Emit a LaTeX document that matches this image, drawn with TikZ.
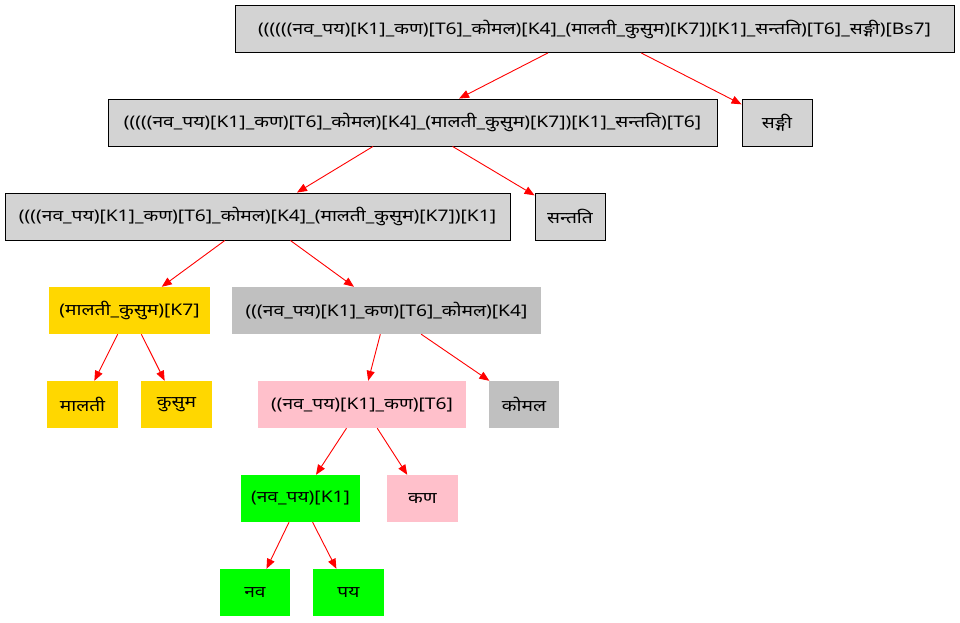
\documentclass[tikz,border=0pt]{standalone}
\usepackage{fontspec}
\setmainfont[Script=Devanagari, FakeStretch=1.2]{Noto Sans}
\usetikzlibrary{arrows.meta}
\definecolor{lgray}{HTML}{D3D3D3}
\definecolor{silver}{HTML}{C0C0C0}
\definecolor{goldc}{HTML}{FFD700}
\definecolor{pinkc}{HTML}{FFC0CB}
\definecolor{limec}{HTML}{00FF00}
\begin{document}
\begin{tikzpicture}[x=1pt,y=-1pt,
  every node/.style={font=\fontsize{16}{18}\selectfont, inner sep=0pt, minimum height=47pt, anchor=center},
  boxed/.style={draw=black, fill=lgray, line width=0.9pt},
  goldbox/.style={fill=goldc},
  silverbox/.style={fill=silver},
  pinkbox/.style={fill=pinkc},
  greenbox/.style={fill=limec},
  edge/.style={draw=red, line width=0.9pt, -{Triangle[length=10pt,width=8pt]}}]
  \fill[white] (0,0) rectangle (960,622);
  \useasboundingbox (0,0) rectangle (960,622);

  % tree levels
  \node[boxed, minimum width=719pt] (r) at (594.5,29) {((((((नव\_पय)[K1]\_कण)[T6]\_कोमल)[K4]\_(मालती\_कुसुम)[K7])[K1]\_सन्तति)[T6]\_सङ्गी)[Bs7]};
  \node[boxed, minimum width=609pt] (a) at (412.5,122.5) {(((((नव\_पय)[K1]\_कण)[T6]\_कोमल)[K4]\_(मालती\_कुसुम)[K7])[K1]\_सन्तति)[T6]};
  \node[boxed, minimum width=70pt] (sangi) at (777,122.5) {सङ्गी};
  \node[boxed, minimum width=505pt] (b) at (257.5,216.5) {((((नव\_पय)[K1]\_कण)[T6]\_कोमल)[K4]\_(मालती\_कुसुम)[K7])[K1]};
  \node[boxed, minimum width=70pt] (santati) at (570,216.5) {सन्तति};
  \node[goldbox, minimum width=161pt] (mk) at (129.5,310.5) {(मालती\_कुसुम)[K7]};
  \node[silverbox, minimum width=309pt] (c) at (386.5,310.5) {(((नव\_पय)[K1]\_कण)[T6]\_कोमल)[K4]};
  \node[goldbox, minimum width=71pt] (malati) at (82.5,404.5) {मालती};
  \node[goldbox, minimum width=71pt] (kusum) at (176.5,404.5) {कुसुम};
  \node[pinkbox, minimum width=208pt] (d) at (362,404.5) {((नव\_पय)[K1]\_कण)[T6]};
  \node[silverbox, minimum width=70pt] (komal) at (524,404.5) {कोमल};
  \node[greenbox, minimum width=119pt] (e) at (300.5,498.5) {(नव\_पय)[K1]};
  \node[pinkbox, minimum width=71pt] (kan) at (422.5,498.5) {कण};
  \node[greenbox, minimum width=70pt] (nava) at (255,592.5) {नव};
  \node[greenbox, minimum width=71pt] (paya) at (348.5,592.5) {पय};

  % connectors
  \draw[edge] (r) -- (a);
  \draw[edge] (r) -- (sangi);
  \draw[edge] (a) -- (b);
  \draw[edge] (a) -- (santati);
  \draw[edge] (b) -- (mk);
  \draw[edge] (b) -- (c);
  \draw[edge] (mk) -- (malati);
  \draw[edge] (mk) -- (kusum);
  \draw[edge] (c) -- (d);
  \draw[edge] (c) -- (komal);
  \draw[edge] (d) -- (e);
  \draw[edge] (d) -- (kan);
  \draw[edge] (e) -- (nava);
  \draw[edge] (e) -- (paya);
\end{tikzpicture}
\end{document}
